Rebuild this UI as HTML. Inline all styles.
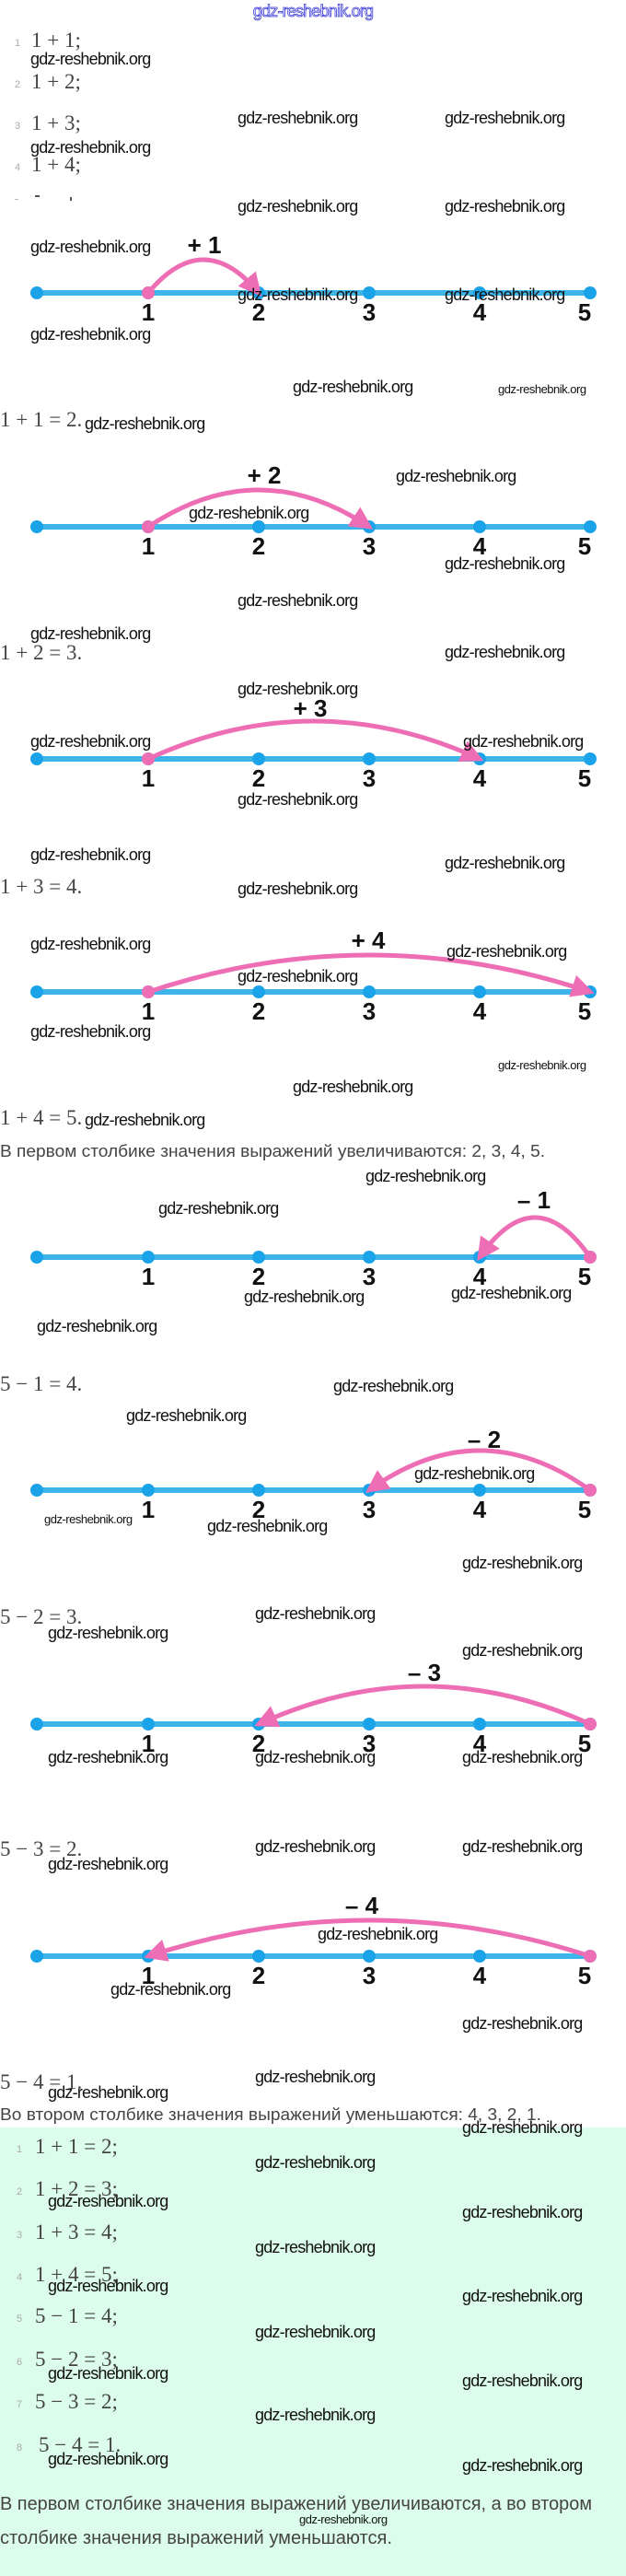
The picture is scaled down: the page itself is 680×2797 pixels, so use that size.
<!DOCTYPE html>
<html><head><meta charset="utf-8"><style>
html,body{margin:0;padding:0;background:#fff;}
svg{display:block;}
.w{font-family:"Liberation Sans",sans-serif;font-size:18px;fill:#111;letter-spacing:-0.8px;}
.ws{font-family:"Liberation Sans",sans-serif;font-size:13px;fill:#111;letter-spacing:-0.5px;}
.m{font-family:"Liberation Serif",serif;font-size:23px;fill:#444;}
.n{font-family:"Liberation Sans",sans-serif;font-size:11px;fill:#aaa;}
.lb{font-family:"Liberation Sans",sans-serif;font-size:26px;font-weight:bold;fill:#111;text-anchor:middle;}
.ru{font-family:"Liberation Sans",sans-serif;font-size:18px;fill:#444;}
.ru2{font-family:"Liberation Sans",sans-serif;font-size:20px;fill:#444;}
</style></head><body>
<svg width="680" height="2797" viewBox="0 0 680 2797" xmlns="http://www.w3.org/2000/svg">
<defs>
<marker id="ah" markerWidth="5" markerHeight="5" refX="4" refY="2.5" orient="auto" markerUnits="strokeWidth">
<path d="M0,0 L5,2.5 L0,5 Z" fill="#ee6eb5"/>
</marker>
<g id="nl">
<line x1="40" y1="0" x2="641" y2="0" stroke="#3db4ea" stroke-width="6"/>
<circle cx="40" cy="0" r="7" fill="#1aa3e8"/><circle cx="161" cy="0" r="7" fill="#1aa3e8"/>
<circle cx="281" cy="0" r="7" fill="#1aa3e8"/><circle cx="401" cy="0" r="7" fill="#1aa3e8"/>
<circle cx="521" cy="0" r="7" fill="#1aa3e8"/><circle cx="641" cy="0" r="7" fill="#1aa3e8"/>
<text class="lb" x="161" y="30">1</text><text class="lb" x="281" y="30">2</text>
<text class="lb" x="401" y="30">3</text><text class="lb" x="521" y="30">4</text>
<text class="lb" x="635" y="30">5</text>
</g>
</defs>

<text x="340" y="18" text-anchor="middle" style="font-family:'Liberation Sans',sans-serif;font-size:18px;fill:#fff;stroke:#3a3ad8;stroke-width:0.8px;letter-spacing:-0.8px">gdz-reshebnik.org</text>

<text class="n" x="16" y="50">1</text><text class="m" x="34" y="51">1 + 1;</text>
<text class="n" x="16" y="95">2</text><text class="m" x="34" y="96">1 + 2;</text>
<text class="n" x="16" y="140">3</text><text class="m" x="34" y="141">1 + 3;</text>
<text class="n" x="16" y="185">4</text><text class="m" x="34" y="186">1 + 4;</text>
<rect x="16" y="216" width="4" height="1" fill="#bbb"/><rect x="38" y="212" width="5" height="2" fill="#555"/><rect x="76" y="214" width="2" height="4" fill="#555"/>

<use href="#nl" x="0" y="318"/>
<path d="M161,318 Q221,246 281,318" fill="none" stroke="#ee6eb5" stroke-width="5" marker-end="url(#ah)"/>
<circle cx="161" cy="318" r="7" fill="#ee6eb5"/>
<text class="lb" x="222" y="275">+ 1</text>

<use href="#nl" x="0" y="572"/>
<path d="M161,572 Q281,492 401,572" fill="none" stroke="#ee6eb5" stroke-width="5" marker-end="url(#ah)"/>
<circle cx="161" cy="572" r="7" fill="#ee6eb5"/>
<text class="lb" x="287" y="525">+ 2</text>

<use href="#nl" x="0" y="824"/>
<path d="M161,824 Q341,742 521,824" fill="none" stroke="#ee6eb5" stroke-width="5" marker-end="url(#ah)"/>
<circle cx="161" cy="824" r="7" fill="#ee6eb5"/>
<text class="lb" x="337" y="778">+ 3</text>

<use href="#nl" x="0" y="1077"/>
<path d="M161,1077 Q401,997 641,1077" fill="none" stroke="#ee6eb5" stroke-width="5" marker-end="url(#ah)"/>
<circle cx="161" cy="1077" r="7" fill="#ee6eb5"/>
<text class="lb" x="400" y="1030">+ 4</text>

<use href="#nl" x="0" y="1365"/>
<path d="M641,1365 Q581,1279 521,1365" fill="none" stroke="#ee6eb5" stroke-width="5" marker-end="url(#ah)"/>
<circle cx="641" cy="1365" r="7" fill="#ee6eb5"/>
<text class="lb" x="580" y="1312">– 1</text>

<use href="#nl" x="0" y="1618"/>
<path d="M641,1618 Q521,1532 401,1618" fill="none" stroke="#ee6eb5" stroke-width="5" marker-end="url(#ah)"/>
<circle cx="641" cy="1618" r="7" fill="#ee6eb5"/>
<text class="lb" x="526" y="1572">– 2</text>

<use href="#nl" x="0" y="1872"/>
<path d="M641,1872 Q461,1790 281,1872" fill="none" stroke="#ee6eb5" stroke-width="5" marker-end="url(#ah)"/>
<circle cx="641" cy="1872" r="7" fill="#ee6eb5"/>
<text class="lb" x="461" y="1825">– 3</text>

<use href="#nl" x="0" y="2124"/>
<path d="M641,2124 Q401,2046 161,2124" fill="none" stroke="#ee6eb5" stroke-width="5" marker-end="url(#ah)"/>
<circle cx="641" cy="2124" r="7" fill="#ee6eb5"/>
<text class="lb" x="393" y="2078">– 4</text>

<text class="m" x="0" y="463">1 + 1 = 2.</text>
<text class="m" x="0" y="716">1 + 2 = 3.</text>
<text class="m" x="0" y="970">1 + 3 = 4.</text>
<text class="m" x="0" y="1221">1 + 4 = 5.</text>
<text class="ru" x="0" y="1256" textLength="592" lengthAdjust="spacingAndGlyphs">В первом столбике значения выражений увеличиваются: 2,  3,  4,  5.</text>
<text class="m" x="0" y="1510">5 − 1 = 4.</text>
<text class="m" x="0" y="1763">5 − 2 = 3.</text>
<text class="m" x="0" y="2015">5 − 3 = 2.</text>
<text class="m" x="0" y="2268">5 − 4 = 1.</text>
<text class="ru" x="0" y="2302" textLength="588" lengthAdjust="spacingAndGlyphs">Во втором столбике значения выражений уменьшаются: 4,  3,  2,  1.</text>

<rect x="0" y="2310" width="680" height="487" fill="#dcfcec"/>
<text class="n" x="18" y="2337">1</text><text class="m" x="38" y="2338">1 + 1 = 2;</text>
<text class="n" x="18" y="2383">2</text><text class="m" x="38" y="2384">1 + 2 = 3;</text>
<text class="n" x="18" y="2430">3</text><text class="m" x="38" y="2431">1 + 3 = 4;</text>
<text class="n" x="18" y="2476">4</text><text class="m" x="38" y="2477">1 + 4 = 5;</text>
<text class="n" x="18" y="2521">5</text><text class="m" x="38" y="2522">5 − 1 = 4;</text>
<text class="n" x="18" y="2568">6</text><text class="m" x="38" y="2569">5 − 2 = 3;</text>
<text class="n" x="18" y="2614">7</text><text class="m" x="38" y="2615">5 − 3 = 2;</text>
<text class="n" x="18" y="2661">8</text><text class="m" x="42" y="2662">5 − 4 = 1.</text>
<text class="ru2" x="0" y="2725" textLength="643" lengthAdjust="spacingAndGlyphs">В первом столбике значения выражений увеличиваются, а во втором</text>
<text class="ru2" x="0" y="2762" textLength="426" lengthAdjust="spacingAndGlyphs">столбике значения выражений уменьшаются.</text>

<g class="w">
<text x="33" y="70">gdz-reshebnik.org</text>
<text x="258" y="134">gdz-reshebnik.org</text><text x="483" y="134">gdz-reshebnik.org</text>
<text x="33" y="166">gdz-reshebnik.org</text>
<text x="258" y="230">gdz-reshebnik.org</text><text x="483" y="230">gdz-reshebnik.org</text>
<text x="33" y="274">gdz-reshebnik.org</text>
<text x="258" y="326">gdz-reshebnik.org</text><text x="483" y="326">gdz-reshebnik.org</text>
<text x="33" y="369">gdz-reshebnik.org</text>
<text x="318" y="426">gdz-reshebnik.org</text>
<text x="92" y="466">gdz-reshebnik.org</text>
<text x="430" y="523">gdz-reshebnik.org</text>
<text x="205" y="563">gdz-reshebnik.org</text>
<text x="483" y="618">gdz-reshebnik.org</text>
<text x="258" y="658">gdz-reshebnik.org</text>
<text x="33" y="694">gdz-reshebnik.org</text>
<text x="483" y="714">gdz-reshebnik.org</text>
<text x="258" y="754">gdz-reshebnik.org</text>
<text x="33" y="811">gdz-reshebnik.org</text><text x="503" y="811">gdz-reshebnik.org</text>
<text x="258" y="874">gdz-reshebnik.org</text>
<text x="33" y="934">gdz-reshebnik.org</text>
<text x="483" y="943">gdz-reshebnik.org</text>
<text x="258" y="971">gdz-reshebnik.org</text>
<text x="33" y="1031">gdz-reshebnik.org</text>
<text x="485" y="1039">gdz-reshebnik.org</text>
<text x="258" y="1066">gdz-reshebnik.org</text>
<text x="33" y="1126">gdz-reshebnik.org</text>
<text x="318" y="1186">gdz-reshebnik.org</text>
<text x="92" y="1222">gdz-reshebnik.org</text>
<text x="397" y="1283">gdz-reshebnik.org</text>
<text x="172" y="1318">gdz-reshebnik.org</text>
<text x="265" y="1414">gdz-reshebnik.org</text><text x="490" y="1410">gdz-reshebnik.org</text>
<text x="40" y="1446">gdz-reshebnik.org</text>
<text x="362" y="1511">gdz-reshebnik.org</text>
<text x="137" y="1543">gdz-reshebnik.org</text>
<text x="450" y="1606">gdz-reshebnik.org</text>
<text x="225" y="1663">gdz-reshebnik.org</text>
<text x="502" y="1703">gdz-reshebnik.org</text>
<text x="277" y="1758">gdz-reshebnik.org</text>
<text x="52" y="1779">gdz-reshebnik.org</text>
<text x="502" y="1798">gdz-reshebnik.org</text>
<text x="52" y="1914">gdz-reshebnik.org</text><text x="277" y="1914">gdz-reshebnik.org</text><text x="502" y="1914">gdz-reshebnik.org</text>
<text x="277" y="2011">gdz-reshebnik.org</text><text x="502" y="2011">gdz-reshebnik.org</text>
<text x="52" y="2030">gdz-reshebnik.org</text>
<text x="345" y="2106">gdz-reshebnik.org</text>
<text x="120" y="2166">gdz-reshebnik.org</text>
<text x="502" y="2203">gdz-reshebnik.org</text>
<text x="277" y="2261">gdz-reshebnik.org</text>
<text x="52" y="2278">gdz-reshebnik.org</text>
<text x="502" y="2316">gdz-reshebnik.org</text>
<text x="277" y="2354">gdz-reshebnik.org</text>
<text x="52" y="2396">gdz-reshebnik.org</text>
<text x="502" y="2408">gdz-reshebnik.org</text>
<text x="277" y="2446">gdz-reshebnik.org</text>
<text x="52" y="2488">gdz-reshebnik.org</text>
<text x="502" y="2499">gdz-reshebnik.org</text>
<text x="277" y="2538">gdz-reshebnik.org</text>
<text x="52" y="2583">gdz-reshebnik.org</text>
<text x="502" y="2591">gdz-reshebnik.org</text>
<text x="277" y="2628">gdz-reshebnik.org</text>
<text x="52" y="2676">gdz-reshebnik.org</text>
<text x="502" y="2683">gdz-reshebnik.org</text>
</g>
<g class="ws">
<text x="541" y="427">gdz-reshebnik.org</text>
<text x="541" y="1161">gdz-reshebnik.org</text>
<text x="48" y="1654">gdz-reshebnik.org</text>
<text x="325" y="2740">gdz-reshebnik.org</text>
</g>
</svg>
</body></html>
